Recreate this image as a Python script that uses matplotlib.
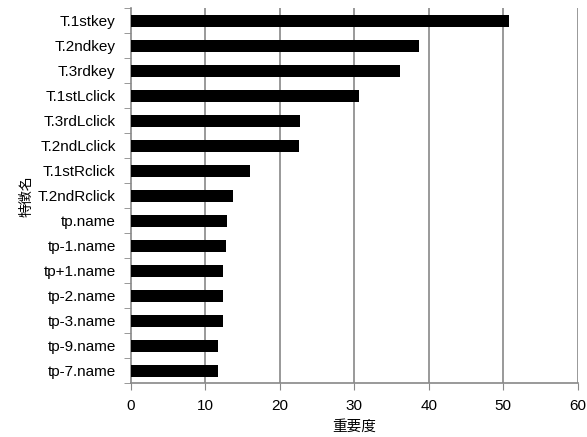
import matplotlib
matplotlib.use("Agg")
import matplotlib.pyplot as plt
import numpy as np

plt.rcParams['font.family'] = ['Liberation Sans', 'Noto Sans CJK JP', 'DejaVu Sans']

features = ["T.1stkey", "T.2ndkey", "T.3rdkey", "T.1stLclick", "T.3rdLclick",
            "T.2ndLclick", "T.1stRclick", "T.2ndRclick", "tp.name", "tp-1.name",
            "tp+1.name", "tp-2.name", "tp-3.name", "tp-9.name", "tp-7.name"]
importance = [50.8, 38.7, 36.2, 30.6, 22.7, 22.6, 16.0, 13.75, 12.9, 12.7,
              12.4, 12.3, 12.3, 11.7, 11.7]
xticks = [0, 10, 20, 30, 40, 50, 60]

W, H = 587, 437
fig = plt.figure(figsize=(W/100, H/100), dpi=100)
left, right, top, bottom = 131, 577.5, 8.3, 383.3
ax = fig.add_axes([left/W, 1-bottom/H, (right-left)/W, (bottom-top)/H])

y = np.arange(len(features))
ax.barh(y, importance, height=0.47, color='black', zorder=3)
ax.set_ylim(len(features)-0.5, -0.5)
ax.set_xlim(0, 60)
ax.set_xticks(xticks)
ax.set_yticks(y)
ax.set_yticklabels(features, fontsize=11)
ax.tick_params(axis='y', which='major', length=0, pad=11)
ax.set_yticks(np.arange(-0.5, len(features)+0.5, 1), minor=True)
ax.tick_params(axis='y', which='minor', length=5, color='#888888', direction='out')
ax.tick_params(axis='x', which='major', length=5, color='#888888', labelsize=11, pad=6)
for xv in xticks[1:]:
    ax.axvline(xv, color='#888888', lw=1.2, zorder=1)
for s in ['top', 'right']:
    ax.spines[s].set_visible(False)
for s in ['left', 'bottom']:
    ax.spines[s].set_color('#888888')
    ax.spines[s].set_linewidth(1.2)
ax.set_xlabel("重要度", fontsize=10.5, labelpad=5)
ax.set_ylabel("特徴名", fontsize=10, labelpad=3)

fig.savefig("out.png", dpi=100)
